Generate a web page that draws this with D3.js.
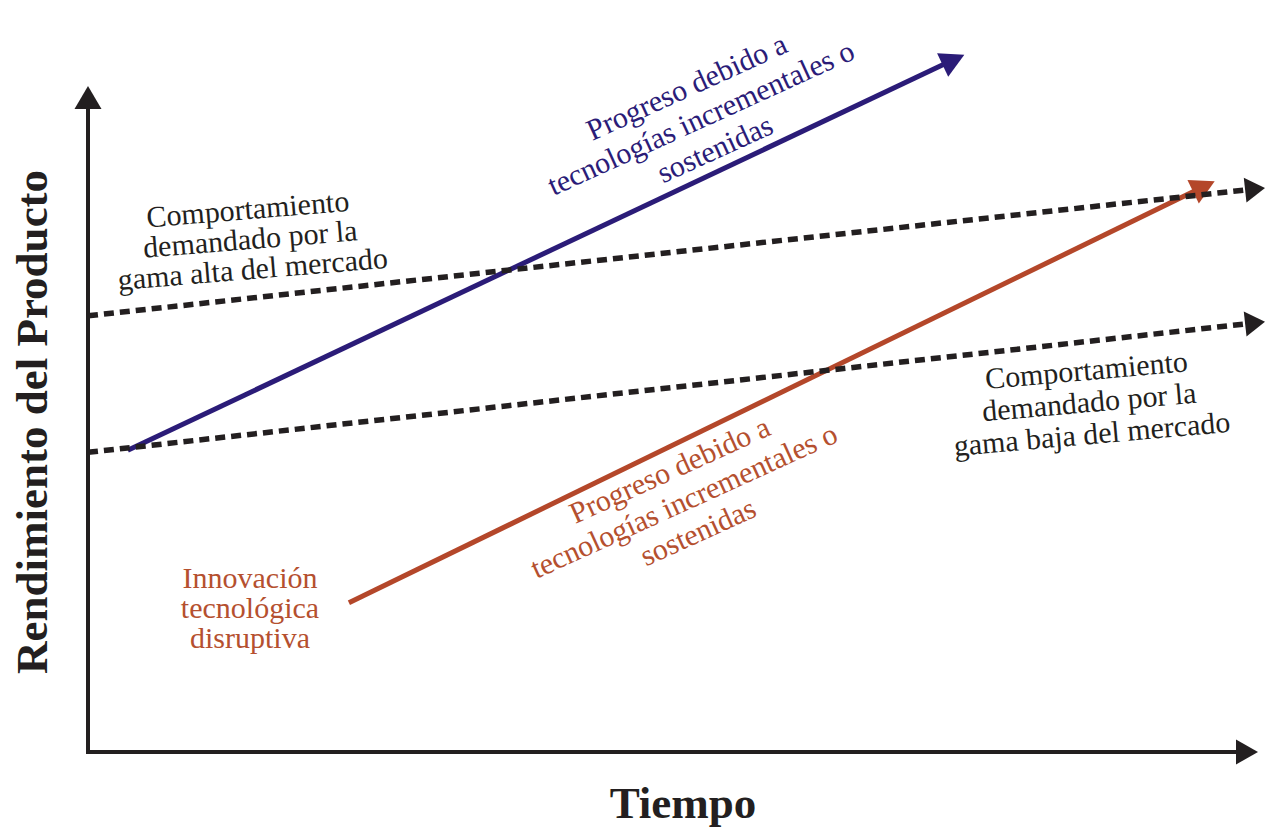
<!DOCTYPE html>
<html>
<head>
<meta charset="utf-8">
<script src="https://cdn.jsdelivr.net/npm/d3@7"></script>
<style>
  html, body { margin: 0; padding: 0; background: #fff; }
  svg { display: block; }
  text { font-family: "Liberation Serif", "Times New Roman", serif; }
</style>
</head>
<body>
<svg id="chart" width="1265" height="829"></svg>
<script>
// ---------- data (time, product performance), arbitrary units 0-100 ----------
const axisExtent = [100, 100];                 // arrow tips of time / performance axes
const highEndDemand = [[0, 65.5], [100.6, 84.7]];   // dashed, upper
const lowEndDemand  = [[0, 45.0], [100.6, 64.6]];   // dashed, lower
const sustainingTech = [[3.4, 45.3], [74.9, 104.7]]; // blue
const disruptiveTech = [[22.3, 22.4], [96.3, 85.7]]; // orange

const labelHigh = ["Comportamiento", "demandado por la", "gama alta del mercado"];
const labelLow = ["Comportamiento", "demandado por la", "gama baja del mercado"];
const labelSustaining = ["Progreso debido a", "tecnologías incrementales o", "sostenidas"];
const labelDisruptiveProgress = ["Progreso debido a", "tecnologías incrementales o", "sostenidas"];
const labelDisruptive = ["Innovación", "tecnológica", "disruptiva"];
const xTitle = "Tiempo";
const yTitle = "Rendimiento del Producto";

// ---------- layout ----------
const svg = d3.select("#chart");
const x = d3.scaleLinear().domain([0, 100]).range([88, 1258]);
const y = d3.scaleLinear().domain([0, 100]).range([752, 86]);

const BLACK = "#231f20", BLUE = "#2b1c78", ORANGE = "#b4472a", ORANGE_TXT = "#b5502f";

// arrowhead helper: draws line (shortened) and filled triangular head at the tip
function arrow(g, pts, color, width, headLen, headW, dash) {
  const p0 = [x(pts[0][0]), y(pts[0][1])];
  const p1 = [x(pts[1][0]), y(pts[1][1])];
  const dx = p1[0] - p0[0], dy = p1[1] - p0[1];
  const L = Math.hypot(dx, dy), ux = dx / L, uy = dy / L;
  const bx = p1[0] - ux * headLen, by = p1[1] - uy * headLen;
  const ex = p1[0] - ux * headLen * 0.6, ey = p1[1] - uy * headLen * 0.6;
  const line = g.append("line")
    .attr("x1", p0[0]).attr("y1", p0[1])
    .attr("x2", ex).attr("y2", ey)
    .attr("stroke", color).attr("stroke-width", width);
  if (dash) line.attr("stroke-dasharray", dash);
  const nx = -uy, ny = ux;
  g.append("path")
    .attr("d", d3.line()([
      [p1[0], p1[1]],
      [bx + nx * headW / 2, by + ny * headW / 2],
      [bx - nx * headW / 2, by - ny * headW / 2]
    ]) + "Z")
    .attr("fill", color);
}

const marks = svg.append("g");

// colored technology lines
arrow(marks, sustainingTech, BLUE, 5, 24, 26);
arrow(marks, disruptiveTech, ORANGE, 5, 24, 26);
// dashed demand lines
arrow(marks, highEndDemand, BLACK, 5.5, 20, 25, "10,6");
arrow(marks, lowEndDemand, BLACK, 5.5, 20, 25, "10,6");

// axes
const axes = svg.append("g");
axes.append("path")
  .attr("d", d3.line()([
    [x(0), y(axisExtent[1]) + 15],
    [x(0), y(0)],
    [x(axisExtent[0]) - 15, y(0)]
  ]))
  .attr("fill", "none").attr("stroke", BLACK).attr("stroke-width", 4)
  .attr("stroke-linejoin", "miter");
// axis arrowheads
axes.append("path")
  .attr("d", d3.line()([
    [x(0), y(axisExtent[1])],
    [x(0) - 13.5, y(axisExtent[1]) + 23],
    [x(0) + 13.5, y(axisExtent[1]) + 23]
  ]) + "Z").attr("fill", BLACK);
axes.append("path")
  .attr("d", d3.line()([
    [x(axisExtent[0]), y(0)],
    [x(axisExtent[0]) - 22, y(0) - 12.5],
    [x(axisExtent[0]) - 22, y(0) + 12.5]
  ]) + "Z").attr("fill", BLACK);

// axis titles
svg.append("text")
  .attr("x", 683).attr("y", 818)
  .attr("text-anchor", "middle")
  .attr("font-size", 45).attr("font-weight", "bold")
  .attr("fill", BLACK).text(xTitle);
svg.append("text")
  .attr("transform", "translate(47,422) rotate(-90)")
  .attr("text-anchor", "middle")
  .attr("font-size", 45).attr("font-weight", "bold")
  .attr("fill", BLACK).text(yTitle);

// multi-line labels
function label(lines, cx, cy, angle, spacing, color) {
  const g = svg.append("g").attr("transform", `translate(${cx},${cy}) rotate(${angle})`);
  g.selectAll("text").data(lines).join("text")
    .attr("x", 0)
    .attr("y", (d, i) => (i - 1) * spacing)
    .attr("text-anchor", "middle")
    .attr("font-size", 30)
    .attr("fill", color)
    .text(d => d);
}
label(labelHigh, 251, 249, -4.7, 30, BLACK);
label(labelLow, 1090, 412, -5, 32, BLACK);
label(labelSustaining, 705, 127, -24.5, 34, BLUE);
label(labelDisruptiveProgress, 688, 510, -24.5, 34, ORANGE_TXT);
label(labelDisruptive, 250, 618, 0, 30, ORANGE_TXT);
</script>
</body>
</html>
